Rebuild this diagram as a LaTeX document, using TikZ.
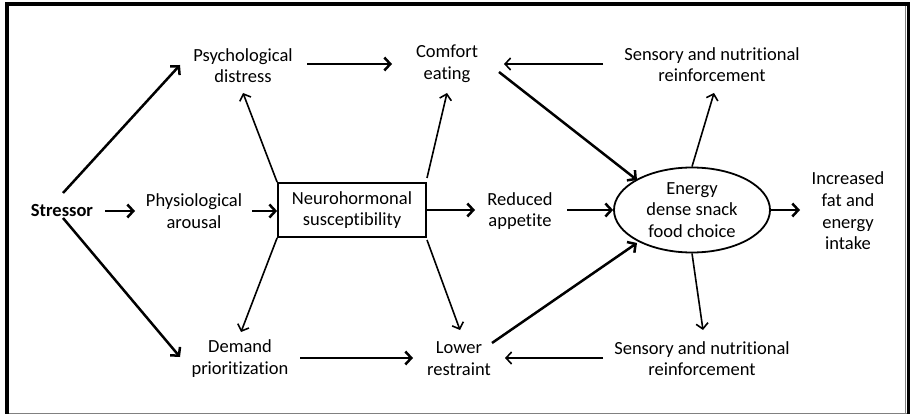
\documentclass[tikz,border=0pt]{standalone}
\usepackage{fontspec}
\setmainfont{Carlito}[Ligatures=NoCommon]
\usetikzlibrary{arrows.meta,shapes.geometric,calc}
\begin{document}
\begin{tikzpicture}[x=1pt,y=-1pt,
  lbl/.style={align=center,inner sep=0pt,font=\fontsize{18.5}{21.7}\selectfont},
  thickarr/.style={line width=2.5pt,-{Straight Barb[length=6pt,width=13pt,line width=2.5pt]}},
  thinarr/.style={line width=1.6pt,-{Straight Barb[length=5.5pt,width=12pt,line width=1.6pt]}}]
\useasboundingbox (0,0) rectangle (910,414);
% frame
\draw[line width=4pt] (7,414) -- (7,4) -- (910,4);
\draw[line width=3pt] (908.5,4) -- (908.5,414);
\draw[gray,line width=1pt] (905.5,6) -- (905.5,413.5);
\draw[gray,line width=1.2pt] (9,413.4) -- (907,413.4);
% nodes
\node[lbl,font=\fontsize{18.5}{21.7}\selectfont\bfseries] (S) at (62,211) {Stressor};
\node[lbl] (Ph) at (194,211) {Physiological\\arousal};
\node[draw,line width=1.8pt,align=center,minimum width=148pt,minimum height=54pt,inner sep=0pt,font=\fontsize{18.5}{21.7}\selectfont] (N) at (352,210) {Neurohormonal\\susceptibility};
\node[lbl] (Ps) at (243,65.5) {Psychological\\distress};
\node[lbl] (D) at (240,358.5) {Demand\\prioritization};
\node[lbl] (C) at (447,64) {Comfort\\eating};
\node[lbl] (R) at (520,211) {Reduced\\appetite};
\node[lbl] (L) at (459,358.5) {Lower\\restraint};
\node[draw,ellipse,line width=1.8pt,minimum width=156pt,minimum height=85pt,inner sep=0pt,align=center,font=\fontsize{18.5}{21.7}\selectfont] (E) at (692,210) {Energy\\dense snack\\food choice};
\node[lbl] (I) at (848,211) {Increased\\fat and\\energy\\intake};
\node[lbl] (ST) at (712,64.5) {Sensory and nutritional\\reinforcement};
\node[lbl] (SB) at (702,358.5) {Sensory and nutritional\\reinforcement};
% connectors
\draw[thickarr] ($(S)+(43,0)$) -- ($(Ph)+(-59,0)$);
\draw[thickarr] ($(S)+(1,-18)$) -- ($(Ps)+(-63,-0.5)$);
\draw[thickarr] ($(S)+(1,7)$) -- ($(D)+(-60,-1.5)$);
\draw[thickarr] ($(Ph)+(58,0)$) -- ($(N.west)+(0,1)$);
\draw[thinarr] (N.north west) -- ($(Ps)+(0,27.5)$);
\draw[thinarr] (N.south west) -- ($(D)+(1,-26.5)$);
\draw[thinarr] ($(N)+(75,-32)$) -- ($(C)+(0,29)$);
\draw[thickarr] (N.east) -- ($(R)+(-45,-1)$);
\draw[thinarr] ($(N)+(75,30)$) -- ($(L)+(1,-28.5)$);
\draw[thickarr] ($(Ps)+(64,-1.5)$) -- ($(C)+(-55,0)$);
\draw[thickarr] ($(D)+(60,-0.5)$) -- ($(L)+(-46,-0.5)$);
\draw[thickarr] ($(C)+(52,8)$) -- ($(E)+(-55,-30)$);
\draw[thickarr] ($(R)+(47,-1)$) -- (E.west);
\draw[thickarr] ($(L)+(33,-15.5)$) -- ($(E)+(-55,33)$);
\draw[thickarr] (E.east) -- ($(I)+(-48,-1)$);
\draw[thinarr] (E.north) -- ($(ST)+(2,28.5)$);
\draw[thinarr] ($(ST)+(-109,-0.5)$) -- ($(C)+(57,0)$);
\draw[thinarr] (E.south) -- ($(SB)+(1,-28.5)$);
\draw[thinarr] ($(SB)+(-99,-0.5)$) -- ($(L)+(46,-0.5)$);
\end{tikzpicture}
\end{document}
